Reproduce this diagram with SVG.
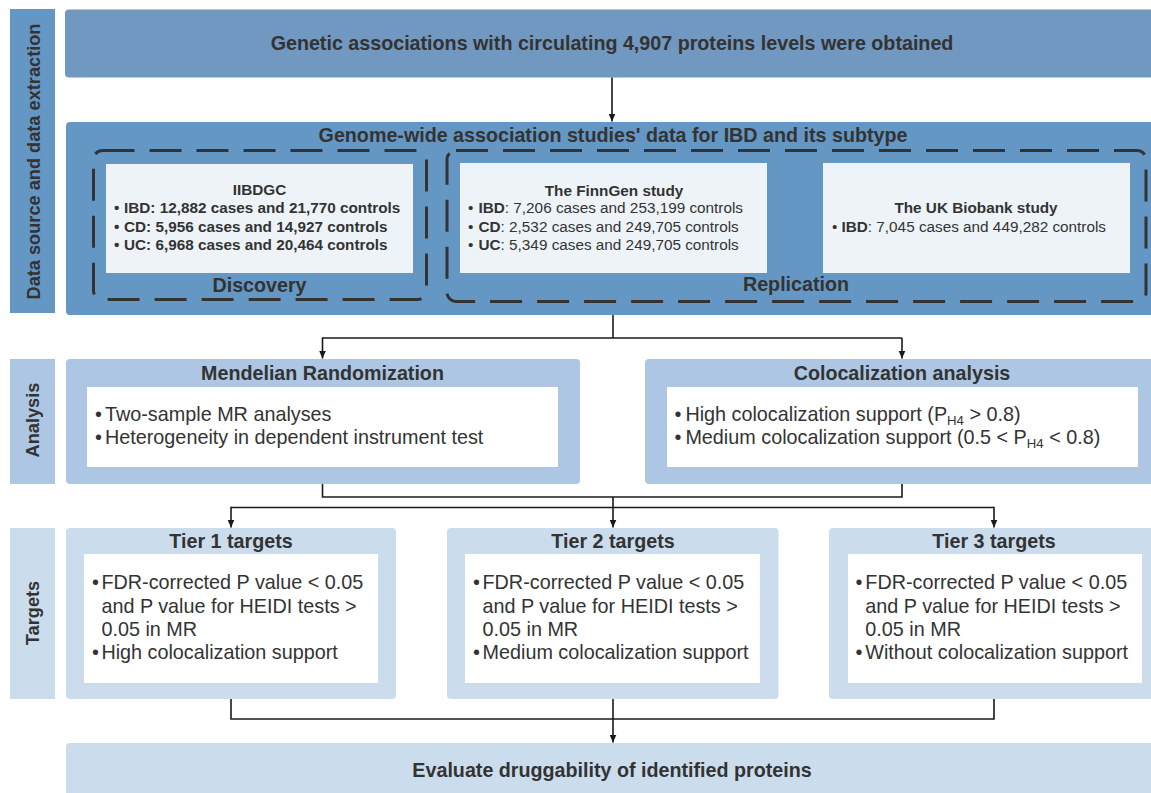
<svg xmlns="http://www.w3.org/2000/svg" width="1151" height="793" viewBox="0 0 1151 793">
<defs>
<style>
text{font-family:"Liberation Sans",Arial,sans-serif;fill:#333333}
.t{font-size:19.7px;font-weight:bold;text-anchor:middle}
.b{font-size:19.8px}
.s{font-size:15.3px}
.sb{font-size:15.3px;font-weight:bold}
.side{font-size:18.2px;font-weight:bold;text-anchor:middle}
.dark{fill:#6597c4}
.top{fill:#7198c0}
.mid{fill:#adc6e3}
.light{fill:#cbdced}
.inner{fill:#eef3f8}
.white{fill:#ffffff}
.dash{fill:none;stroke:#333333;stroke-width:3;stroke-dasharray:32 15}
.con{fill:none;stroke:#1a1a1a;stroke-width:1.6}
</style>
<marker id="ah" markerWidth="8" markerHeight="8" refX="8" refY="4" orient="auto" markerUnits="userSpaceOnUse">
<path d="M0,0.5 L8,4 L0,7.5 z" fill="#1a1a1a"/>
</marker>
</defs>
<rect width="1151" height="793" fill="#ffffff"/>

<g id="side-data">
<rect class="dark" x="10" y="9" width="45" height="304"/>
<text class="side" transform="translate(39.5,161.5) rotate(-90)">Data source and data extraction</text>
</g>
<g id="side-analysis">
<rect class="mid" x="10" y="359" width="45" height="125"/>
<text class="side" transform="translate(38.5,420) rotate(-90)">Analysis</text>
</g>
<g id="side-targets">
<rect class="light" x="10" y="528" width="45" height="171"/>
<text class="side" transform="translate(38.5,613) rotate(-90)">Targets</text>
</g>

<g id="proteins">
<rect class="top" x="65" y="9.5" width="1100" height="68" rx="4"/>
<text class="t" x="612" y="50">Genetic associations with circulating 4,907 proteins levels were obtained</text>
</g>

<g id="gwas">
<rect class="dark" x="66" y="122" width="1100" height="193" rx="4"/>
<text class="t" x="613" y="141.5">Genome-wide association studies' data for IBD and its subtype</text>
</g>

<g id="discovery">
<rect class="dash" x="93.5" y="150.5" width="333" height="149" rx="9"/>
<rect class="inner" x="106" y="164" width="307" height="109"/>
<text class="sb" x="259.5" y="195" text-anchor="middle">IIBDGC</text>
<text class="sb" x="114" y="213">•<tspan x="124">IBD: 12,882 cases and 21,770 controls</tspan></text>
<text class="sb" x="114" y="231.5">•<tspan x="124">CD: 5,956 cases and 14,927 controls</tspan></text>
<text class="sb" x="114" y="250">•<tspan x="124">UC: 6,968 cases and 20,464 controls</tspan></text>
<text class="t" x="259.5" y="292">Discovery</text>
</g>

<g id="replication">
<rect class="dash" x="447" y="150.5" width="699" height="151" rx="9"/>
<text class="t" x="796" y="291">Replication</text>
</g>

<g id="finngen">
<rect class="inner" x="460" y="163" width="307" height="110"/>
<text class="sb" x="614" y="196" text-anchor="middle">The FinnGen study</text>
<text class="s" x="468" y="213.3">•<tspan x="478.5" font-weight="bold">IBD</tspan>: 7,206 cases and 253,199 controls</text>
<text class="s" x="468" y="231.7">•<tspan x="478.5" font-weight="bold">CD</tspan>: 2,532 cases and 249,705 controls</text>
<text class="s" x="468" y="250">•<tspan x="478.5" font-weight="bold">UC</tspan>: 5,349 cases and 249,705 controls</text>
</g>

<g id="ukbiobank">
<rect class="inner" x="823" y="163" width="307" height="110"/>
<text class="sb" x="976" y="213" text-anchor="middle">The UK Biobank study</text>
<text class="s" x="832" y="231.7">•<tspan x="841.5" font-weight="bold">IBD</tspan>: 7,045 cases and 449,282 controls</text>
</g>

<g id="mr">
<rect class="mid" x="66" y="359" width="514" height="125" rx="4"/>
<rect class="white" x="87" y="387" width="471" height="80"/>
<text class="t" x="322.5" y="380">Mendelian Randomization</text>
<text class="b" x="95" y="421">•<tspan x="105">Two-sample MR analyses</tspan></text>
<text class="b" x="95" y="444.3">•<tspan x="105">Heterogeneity in dependent instrument test</tspan></text>
</g>

<g id="coloc">
<rect class="mid" x="645" y="359" width="515" height="125" rx="4"/>
<rect class="white" x="667" y="387" width="471" height="80"/>
<text class="t" x="902" y="380">Colocalization analysis</text>
<text class="b" x="674.5" y="421">•<tspan x="685.4">High colocalization support (P</tspan><tspan font-size="13.2" dy="4">H4</tspan><tspan dy="-4"> &gt; 0.8)</tspan></text>
<text class="b" x="674.5" y="444.3">•<tspan x="685.4">Medium colocalization support (0.5 &lt; P</tspan><tspan font-size="13.2" dy="4">H4</tspan><tspan dy="-4"> &lt; 0.8)</tspan></text>
</g>

<g id="tier1">
<rect class="light" x="66" y="528" width="330" height="171" rx="4"/>
<rect class="white" x="84" y="554" width="294" height="129"/>
<text class="t" x="231" y="548.3">Tier 1 targets</text>
<text class="b" x="92" y="589.3">•<tspan x="101.4">FDR-corrected P value &lt; 0.05</tspan></text>
<text class="b" x="101.4" y="612.7">and P value for HEIDI tests &gt;</text>
<text class="b" x="101.4" y="636">0.05 in MR</text>
<text class="b" x="92" y="659.3">•<tspan x="101.4">High colocalization support</tspan></text>
</g>

<g id="tier2">
<rect class="light" x="447" y="528" width="331.5" height="171" rx="4"/>
<rect class="white" x="465" y="554" width="295" height="129"/>
<text class="t" x="613" y="548.3">Tier 2 targets</text>
<text class="b" x="473" y="589.3">•<tspan x="482.5">FDR-corrected P value &lt; 0.05</tspan></text>
<text class="b" x="482.5" y="612.7">and P value for HEIDI tests &gt;</text>
<text class="b" x="482.5" y="636">0.05 in MR</text>
<text class="b" x="473" y="659.3">•<tspan x="482.5">Medium colocalization support</tspan></text>
</g>

<g id="tier3">
<rect class="light" x="829" y="528" width="331" height="171" rx="4"/>
<rect class="white" x="848" y="554" width="294" height="129"/>
<text class="t" x="994" y="548.3">Tier 3 targets</text>
<text class="b" x="855.5" y="589.3">•<tspan x="865.3">FDR-corrected P value &lt; 0.05</tspan></text>
<text class="b" x="865.3" y="612.7">and P value for HEIDI tests &gt;</text>
<text class="b" x="865.3" y="636">0.05 in MR</text>
<text class="b" x="855.5" y="659.3">•<tspan x="865.3">Without colocalization support</tspan></text>
</g>

<g id="druggability">
<rect class="light" x="66" y="743" width="1100" height="60" rx="4"/>
<text class="t" x="612" y="777">Evaluate druggability of identified proteins</text>
</g>

<g id="connectors">
<path class="con" stroke-width="2" d="M612,77.5 V121.5" marker-end="url(#ah)"/>
<path class="con" d="M613,315 V338"/>
<path class="con" d="M322.5,338 H902 M322.5,337.2 V358.5" marker-end="url(#ah)"/>
<path class="con" d="M902,338 V358.5" marker-end="url(#ah)"/>
<path class="con" d="M322.5,484 V497 H902 V484 M613,497 V507.5"/>
<path class="con" d="M231,507.5 H994"/>
<path class="con" d="M231,506.7 V527.5" marker-end="url(#ah)"/>
<path class="con" d="M613,507.5 V527.5" marker-end="url(#ah)"/>
<path class="con" d="M994,506.7 V527.5" marker-end="url(#ah)"/>
<path class="con" d="M231,699 V719 H994 V699"/>
<path class="con" d="M613,699 V742.5" marker-end="url(#ah)"/>
</g>
</svg>
